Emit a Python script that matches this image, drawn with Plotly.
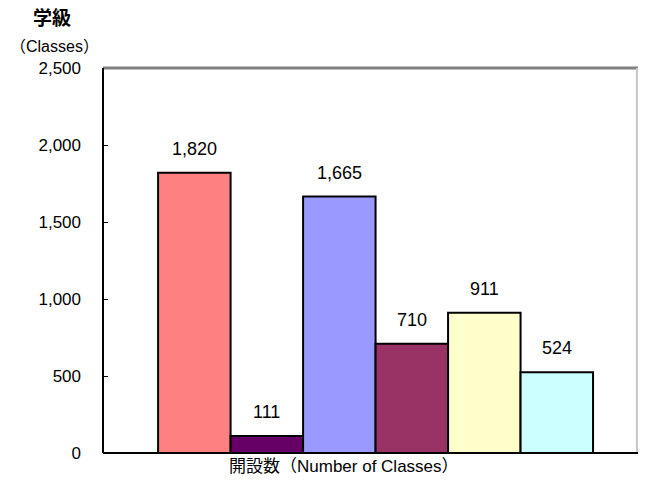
import plotly.graph_objs as go

# 開設数 (Number of Classes)
values = [1820, 111, 1665, 710, 911, 524]
colors = ["#FF8080", "#660066", "#9999FF", "#993366", "#FFFFCC", "#CCFFFF"]
positions = [0, 1, 2, 3, 4, 5]
y_ticks = [0, 500, 1000, 1500, 2000, 2500]

font_all = "Liberation Sans, Noto Sans CJK JP"

fig = go.Figure()
fig.add_trace(go.Bar(
    x=positions, y=values, width=1,
    marker=dict(color=colors, line=dict(color="black", width=2)),
    showlegend=False, hoverinfo="y"
))

# value labels above bars
labels = [dict(x=p, y=v, text=f"{v:,}", xref="x", yref="y", showarrow=False,
               yshift=24, font=dict(size=18)) for p, v in zip(positions, values)]

fig.update_layout(
    width=630, height=470,
    margin=dict(l=95, r=0, t=60, b=25),
    paper_bgcolor="white", plot_bgcolor="white",
    font=dict(family=font_all, color="black", size=18),
    xaxis=dict(range=[-1.26, 6.12], showticklabels=False, ticks="",
               showgrid=False, zeroline=False, showline=False),
    yaxis=dict(range=[0, 2500], tickvals=y_ticks, ticktext=[f"{v:,}" for v in y_ticks],
               showgrid=False, zeroline=False, showline=False,
               ticks="inside", ticklen=5, tickcolor="black", tickwidth=1,
               ticklabelstandoff=21, tickfont=dict(size=17)),
    shapes=[
        dict(type="line", xref="paper", yref="paper", x0=0, x1=1, y0=1, y1=1,
             line=dict(color="#808080", width=3)),
        dict(type="line", xref="paper", yref="paper", x0=0.998, x1=0.998, y0=0, y1=1,
             line=dict(color="#c8c8c8", width=2)),
        dict(type="line", xref="paper", yref="paper", x0=0, x1=0, y0=0, y1=1,
             line=dict(color="black", width=2)),
        dict(type="line", xref="paper", yref="paper", x0=0, x1=1, y0=0, y1=0,
             line=dict(color="black", width=2)),
    ],
    annotations=labels + [
        dict(text="<b>学級</b>", xref="paper", yref="paper", x=-0.096, y=1.13,
             xanchor="center", yanchor="middle", showarrow=False, font=dict(size=19)),
        dict(text="（Classes）", xref="paper", yref="paper", x=-0.178, y=1.057,
             xanchor="left", yanchor="middle", showarrow=False, font=dict(size=16)),
        dict(text="開設数（Number of Classes）", xref="paper", yref="paper", x=0.45, y=-0.036,
             xanchor="center", yanchor="middle", showarrow=False, font=dict(size=17)),
    ],
)

fig.write_html("out.html")
